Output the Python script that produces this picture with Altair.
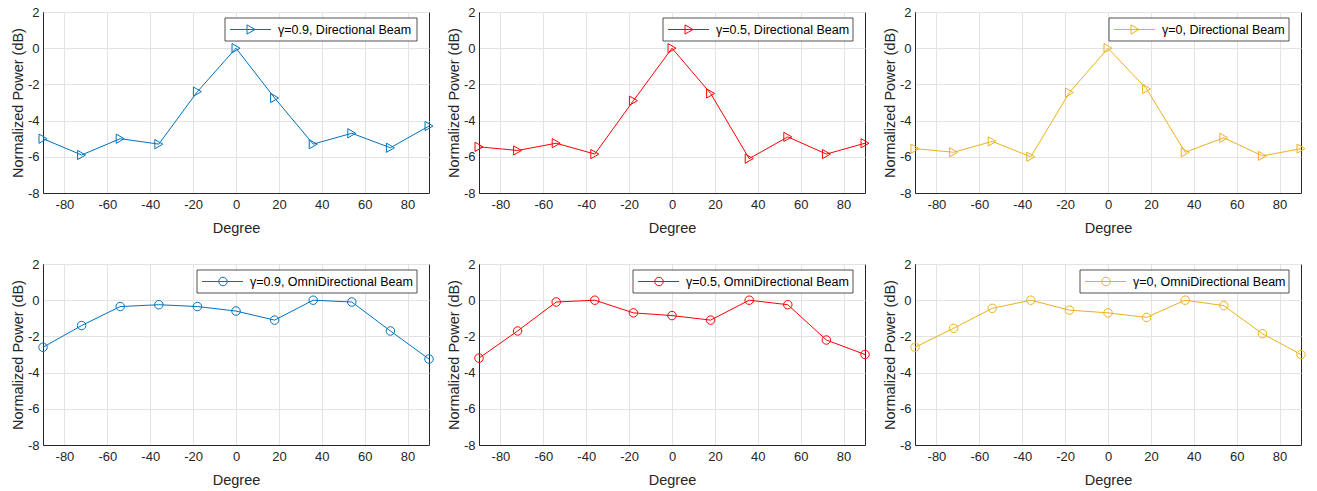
import altair as alt
import pandas as pd

degrees = [-90, -72, -54, -36, -18, 0, 18, 36, 54, 72, 90]

dir_g09 = [-5.0, -5.9, -5.0, -5.3, -2.4, 0.0, -2.75, -5.3, -4.7, -5.5, -4.3]
dir_g05 = [-5.45, -5.65, -5.25, -5.85, -2.9, 0.0, -2.5, -6.1, -4.9, -5.85, -5.25]
dir_g00 = [-5.55, -5.75, -5.15, -6.0, -2.45, 0.0, -2.25, -5.75, -4.95, -5.95, -5.55]

omni_g09 = [-2.6, -1.4, -0.35, -0.25, -0.35, -0.6, -1.1, 0.0, -0.1, -1.7, -3.25]
omni_g05 = [-3.2, -1.7, -0.1, 0.0, -0.7, -0.85, -1.1, 0.0, -0.25, -2.2, -3.0]
omni_g00 = [-2.6, -1.55, -0.45, 0.0, -0.55, -0.7, -0.95, 0.0, -0.3, -1.85, -3.0]

labels_dir = ["γ=0.9, Directional Beam", "γ=0.5, Directional Beam", "γ=0, Directional Beam"]
labels_omni = ["γ=0.9, OmniDirectional Beam", "γ=0.5, OmniDirectional Beam", "γ=0, OmniDirectional Beam"]
colors = ["#0072BD", "#FF0000", "#EDB120"]

x_ticks = [-80, -60, -40, -20, 0, 20, 40, 60, 80]
y_ticks = [-8, -6, -4, -2, 0, 2]

W, H = 386, 181
FONT = "Liberation Sans"
AX = "#262626"


def panel(values, color, shape, size, label, boxw):
    df = pd.DataFrame({"Degree": degrees, "Power": values})
    x = alt.X("Degree:Q",
              scale=alt.Scale(domain=[-90, 90], nice=False, zero=False),
              axis=alt.Axis(values=x_ticks, title="Degree", labelExpr="'' + datum.value"))
    y = alt.Y("Power:Q",
              scale=alt.Scale(domain=[-8, 2], nice=False, zero=False),
              axis=alt.Axis(values=y_ticks, title="Normalized Power (dB)", labelExpr="'' + datum.value"))
    line = alt.Chart(df).mark_line(color=color, strokeWidth=1).encode(x=x, y=y)
    pts = alt.Chart(df).mark_point(shape=shape, color=color, filled=False, size=size,
                                   strokeWidth=1, opacity=1).encode(x=x, y=y)

    right = W - 12
    left = right - boxw
    top, bottom = 6, 29
    mid = (top + bottom) / 2
    ldf = pd.DataFrame({"label": [label]})
    box = alt.Chart(ldf).mark_rect(fill="white", stroke=AX, strokeWidth=0.8).encode(
        x=alt.value(left), x2=alt.value(right), y=alt.value(top), y2=alt.value(bottom))
    lline = alt.Chart(ldf).mark_rule(color=color, strokeWidth=1).encode(
        x=alt.value(left + 5), x2=alt.value(left + 46), y=alt.value(mid))
    lpt = alt.Chart(ldf).mark_point(shape=shape, color=color, filled=False, size=size,
                                    strokeWidth=1, opacity=1).encode(
        x=alt.value(left + 26), y=alt.value(mid))
    ltext = alt.Chart(ldf).mark_text(align="left", baseline="middle", font=FONT,
                                     fontSize=12.5, color="black").encode(
        x=alt.value(left + 53), y=alt.value(mid + 0.5), text="label:N")
    return alt.layer(line, pts, box, lline, lpt, ltext).properties(width=W, height=H)


panels = [
    panel(dir_g09, colors[0], "triangle-right", 85, labels_dir[0], 192),
    panel(dir_g05, colors[1], "triangle-right", 85, labels_dir[1], 190),
    panel(dir_g00, colors[2], "triangle-right", 85, labels_dir[2], 180),
    panel(omni_g09, colors[0], "circle", 72, labels_omni[0], 220),
    panel(omni_g05, colors[1], "circle", 72, labels_omni[1], 220),
    panel(omni_g00, colors[2], "circle", 72, labels_omni[2], 209),
]

chart = alt.concat(*panels, columns=3, spacing={"row": 71, "column": 50},
                   bounds="flush").configure(
    padding={"left": 9, "top": 5, "right": 5, "bottom": 5},
    background="white",
).configure_axis(
    grid=True, gridColor="#e3e3e3", gridWidth=1,
    domainColor=AX, domainWidth=1,
    tickSize=0,
    labelColor=AX, titleColor=AX,
    labelFont=FONT, titleFont=FONT,
    labelFontSize=13, titleFontSize=14.5, titleFontWeight="normal",
    labelPadding=4, titlePadding=2,
).configure_axisX(
    labelPadding=5, titlePadding=10,
).configure_view(
    stroke=AX, strokeWidth=1,
)

chart.save("out.html", embed_options={"renderer": "svg", "actions": False})
